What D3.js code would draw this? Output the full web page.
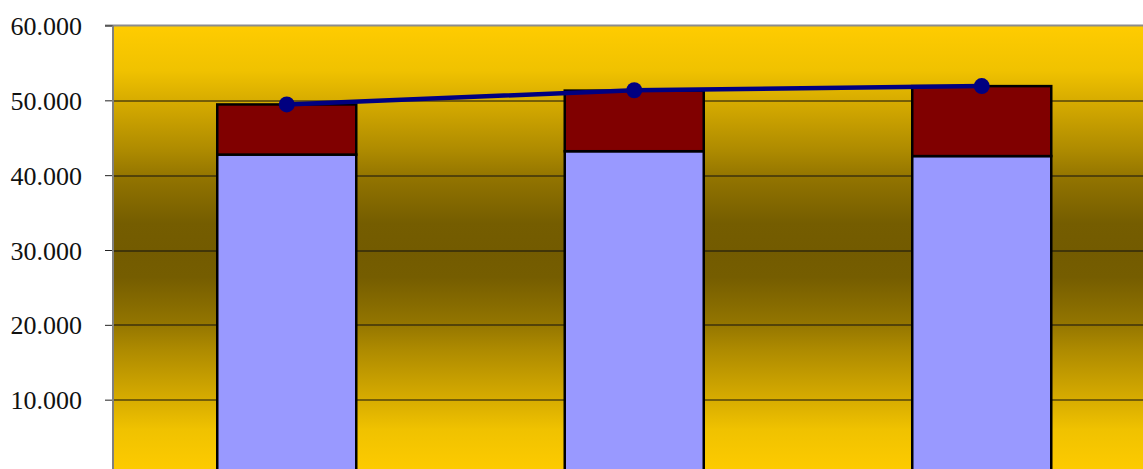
<!DOCTYPE html>
<meta charset="utf-8">
<style>
body { margin: 0; background: #fff; }
.tick text { font-family: "Liberation Serif", serif; font-size: 26px; fill: #111; }
</style>
<svg width="1143" height="469" id="chart"></svg>
<script src="https://cdn.jsdelivr.net/npm/d3@7/dist/d3.min.js"></script>
<script>

var categories = ["A", "B", "C"],
    lowerValues = [42750, 43200, 42550],
    upperValues = [6700, 8100, 9350],
    lineValues = [49450, 51350, 51900],
    yTicks = [10000, 20000, 30000, 40000, 50000, 60000];

var svg = d3.select("svg#chart"),
    margin = {top: 25.5, left: 113},
    width = 1042.5,
    height = 449,
    g = svg.append("g").attr("transform", "translate(" + margin.left + "," + margin.top + ")");

var x = d3.scaleBand().domain(categories).range([0, width]).paddingInner(0.6).paddingOuter(0.3),
    y = d3.scaleLinear().domain([0, 60000]).range([height, 0]);

// plot area gradient: gold at edges, dark in the middle
var stops = [[0, "#ffcc00"], [0.1, "#f0c200"], [0.17, "#d6ab00"], [0.28, "#ad8a00"],
             [0.34, "#927400"], [0.44, "#755d00"], [0.5, "#735b00"]];
var grad = svg.append("defs").append("linearGradient")
    .attr("id", "bg").attr("x1", 0).attr("y1", 0).attr("x2", 0).attr("y2", 1);
stops.concat(stops.slice(0, -1).reverse().map(function(s) { return [1 - s[0], s[1]]; }))
  .forEach(function(s) {
    grad.append("stop").attr("offset", s[0]).attr("stop-color", s[1]);
  });

g.append("rect")
    .attr("width", width)
    .attr("height", height)
    .attr("fill", "url(#bg)");

// gridlines
g.selectAll(".grid")
    .data(yTicks.slice(0, -1))
  .enter().append("line")
    .attr("x1", 0).attr("x2", width)
    .attr("y1", function(d) { return Math.round(y(d)) + 0.5; })
    .attr("y2", function(d) { return Math.round(y(d)) + 0.5; })
    .attr("stroke", "#111").attr("stroke-width", 1);

// top border
g.append("line")
    .attr("x1", -8).attr("x2", width)
    .attr("y1", 0).attr("y2", 0)
    .attr("stroke", "#8c8c8c").attr("stroke-width", 2);

// y axis
var yAxis = g.append("g")
    .call(d3.axisLeft(y).tickValues(yTicks).tickSize(8).tickPadding(23)
      .tickFormat(function(d) { return d3.format(",")(d).replace(",", "."); }));
yAxis.select(".domain").remove();
yAxis.selectAll(".tick line").attr("stroke", "#222");
yAxis.selectAll(".tick text").attr("dy", "0.35em");

g.append("line")
    .attr("x1", 0).attr("x2", 0)
    .attr("y1", 0).attr("y2", height)
    .attr("stroke", "#808080").attr("stroke-width", 2);

// stacked bars
var bars = g.selectAll(".bar")
    .data(categories)
  .enter().append("g").attr("class", "bar");

bars.append("rect")
    .attr("x", function(d) { return x(d); })
    .attr("width", x.bandwidth())
    .attr("y", function(d, i) { return y(lowerValues[i]); })
    .attr("height", function(d, i) { return y(0) - y(lowerValues[i]); })
    .attr("fill", "#9999ff").attr("stroke", "#000").attr("stroke-width", 2.5);

bars.append("rect")
    .attr("x", function(d) { return x(d); })
    .attr("width", x.bandwidth())
    .attr("y", function(d, i) { return y(lowerValues[i] + upperValues[i]); })
    .attr("height", function(d, i) { return y(lowerValues[i]) - y(lowerValues[i] + upperValues[i]); })
    .attr("fill", "#800000").attr("stroke", "#000").attr("stroke-width", 2.5);

// line series
var line = d3.line()
    .x(function(d, i) { return x(categories[i]) + x.bandwidth() / 2; })
    .y(function(d) { return y(d); });

g.append("path")
    .datum(lineValues)
    .attr("d", line)
    .attr("fill", "none").attr("stroke", "#000080").attr("stroke-width", 4.5);

g.selectAll(".dot")
    .data(lineValues)
  .enter().append("circle")
    .attr("cx", function(d, i) { return x(categories[i]) + x.bandwidth() / 2; })
    .attr("cy", function(d) { return y(d); })
    .attr("r", 8)
    .attr("fill", "#000080");

</script>
